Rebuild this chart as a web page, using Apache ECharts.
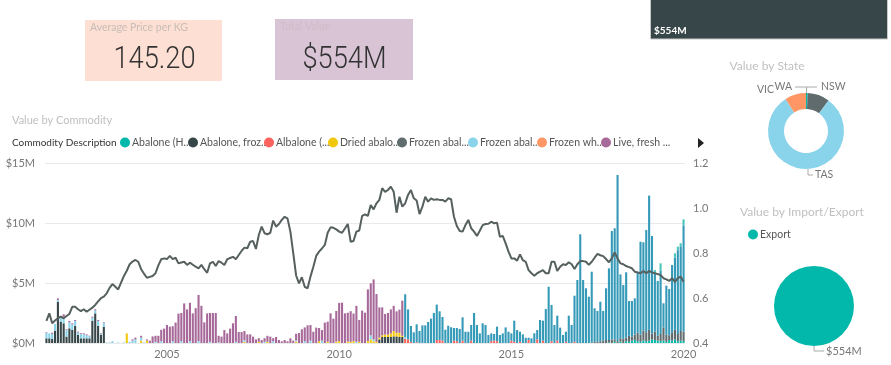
<!DOCTYPE html>
<html><head><meta charset="utf-8">
<script src="https://cdn.jsdelivr.net/npm/echarts@6/dist/echarts.min.js"></script>
<style>html,body{margin:0;padding:0;background:#fff}#c{width:891px;height:365px}</style>
</head><body><div id="c"></div>
<script>
// ---------- categories: monthly, Jul 2001 .. Jan 2020 ----------
const firstYear = 2001, firstMonth = 7, monthCount = 223;
const months = [];
for (let i = 0; i < monthCount; i++) {
  const m = firstMonth - 1 + i;
  months.push((firstYear + Math.floor(m / 12)) + '-' + String(m % 12 + 1).padStart(2, '0'));
}
const yearTicks = ['2005-01', '2010-01', '2015-01', '2020-01'];
const valueTicks = ['$0M', '$5M', '$10M', '$15M'];

// ---------- series values ($M); segments are [startMonthIndex, values] ----------
const abaloneH = [[196, [0.05,0,0.1,0,0.1,0,0.15,0.1,0.2,0.25,0.15,0.1,0.2,0.15,0.2,0.3,0.25,0.2,0.15,0.2,0.1,0.25,0.2,0.3,0.15,0.2,0.15]]];
const abaloneFrozen = [
  [0, [0.39,0.39,0.33,1.03,3.44,1.78,1.64,0.53,1.22,1.1,1.44,0.67,0.39,0.39,0.39,0.39,1.86,2.47,1.44,0.69,1.36]],
  [116, [0.3,0.5,0.5,0.5,0.5,0.55,0.55,0.5,0.5]]
];
const albalone = [[125, [0.35,0.3,0.1,0,0.06,0,0,0,0,0, 0,0.25,0.25,0.2,0,0,0,0.2,0.15,0, 0.2,0,0,0.2,0,0,0,0,0,0, 0.15,0.2,0.15,0,0,0,0,0.2,0.1,0, 0.1,0,0,0.25,0,0,0.3,0,0.2,0, 0,0.15,0,0.2,0,0,0.1,0,0,0.1]]];
const driedAbalone = [[28,[0.8]],[33,[0.2]],[35,[0.2]],[69,[0.08]],[74,[0.1]],[77,[0.1]],[87,[0.12]],[95,[0.15]],[98,[0.1]],[101,[0.12,0.15]],[105,[0.12,0.1,0.15]],[109,[0.1]],
  [112, [0.15,0.3,0.15,0.1,0.15,0.15,0.2,0.2,0.3,0.45,0.3,0.35,0.1]]];
const frozenGrey = [[190, [0.05,0.1,0.1,0.15,0.2,0.25,0.2,0.3,0.2,0.15,0.3,0.35,0.3,0.5,0.35,0.45,0.7,0.6,0.85,0.75,0.9,0.5,0.7,0.4,0.6,1.1,0.6,0.4,0.7,0.8,0.6,0.8,0.8]]];
const frozenLight = [
  [0, [0.45,0.42,0.43,0.55,0.15,0.3,0.55,0.55,0.5,0.45,0.4,0.2,0.35,0.35,0.25,0.17,0.25,0.25,0.4,0.1,0.3,0.05,0.05,0.15]],
  [25,[0.05]],[27,[0.05]],[29,[0.1,0.2,0.3]],[33,[0.25,0.05]],[38,[0.1]],[40,[0.15]],[44,[0.15]],[47,[0.15]],[50,[0.15]],[53,[0.15]],[57,[0.1]],[60,[0.05]],
  [66,[0.1]],[69,[0.15]],[76,[0.1]],[79,[0.15]],[87,[0.1]],[90,[0.15]],[92,[0.2]],[96,[0.2]],[108,[0.1]],[113,[0.35,0.15]],[125,[0.15]]
];
const frozenWhole = [];
const liveFresh = [
  [0, [0.05,0,0.1,0,0.13,0.1,0.2,0.06,0.11,0.09,0.08,0.07,0.07,0.07,0.08,0.05,0.08,0.09,0.08,0.05,0.06]],
  [30, [0.1,0.15,0,0.15,0,0.1,0.2,0.55,0.5,0.6,
        0.95,1.2,1.5,1.36,1.25,1.7,2.45,2.35,3.3,2.8,
        3.2,2.47,2.9,3.85,3.1,1.72,2.47,2.4,2.5,2.5,
        0.55,0.53,1.08,0.8,1.2,1.64,2.15,0.92,0.92,0.77,
        0.72,0.72,0.53,0.3,0.3,0.25,0.3,0.5,0.53,0.25,
        0.5,0.25,0.14,0.25,0.14,0.39,0.2,0.55,0.83,1.14,
        1.15,1.47,1.3,0.94,1.28,1.1,0.88,1.7,1.68,2.47,
        2.03,2.55,3.2,3.36,2.47,2.4,2.55,2.3,3.0,1.82,
        2.7,2.53,4.32,4.32,5.0,3.98,2.52,2.32,1.72,1.8,
        2.0,2.1,1.79,1.93,2.93]]
];
const processed = [[125, [3.56,2.5,1.32,0.89,1.5,1.0,1.47,1.47,1.75,2.03,
  2.5,2.95,2.39,1.97,1.11,1.44,1.31,1.05,1.1,1.17,
  1.94,0.94,0.94,1.3,2.5,1.5,0.8,1.64,1.5,0.67,
  0.65,0.55,1.21,0.67,0.8,1.3,0.94,0.6,1.76,1.08,
  0.84,0.72,0.44,0.19,0.39,0.81,0.78,1.92,1.66,2.83,
  4.69,3.02,1.5,2.08,1.28,0.67,0.84,2.28,1.5,3.84,
  5.25,9.06,5.25,4.56,3.86,
  5.89,2.79,2.57,3.29,2.47,4.31,5.97,9.03,9.26,13.85,
  5.32,4.48,5.44,2.9,2.95,3.02,5.09,7.74,7.34,8.52,
  11.18,8.12,4.83,4.57,5.29,2.01,4.08,3.85,5.6,6.02,
  6.98,7.06,8.85]]];
const otherExport = [[212,[0.3]],[214,[0.6]],[219,[0.35,0.3,0.25,0.5]]];

// line (right axis)
const ratio = [0.498,0.532,0.488,0.5,0.51,0.517,0.51,0.52,0.529,0.561,
 0.561,0.55,0.542,0.55,0.539,0.548,0.557,0.569,0.585,0.599,
 0.606,0.621,0.645,0.662,0.65,0.638,0.668,0.698,0.721,0.75,
 0.762,0.769,0.761,0.728,0.708,0.69,0.694,0.698,0.71,0.745,
 0.772,0.776,0.773,0.787,0.773,0.779,0.754,0.758,0.761,0.747,
 0.757,0.748,0.739,0.732,0.747,0.728,0.712,0.754,0.761,0.742,
 0.764,0.757,0.747,0.772,0.778,0.783,0.772,0.791,0.809,0.824,
 0.821,0.85,0.853,0.818,0.88,0.917,0.888,0.883,0.89,0.944,
 0.917,0.929,0.947,0.961,0.954,0.895,0.799,0.70,0.665,0.692,
 0.65,0.643,0.695,0.739,0.787,0.806,0.82,0.836,0.89,0.914,
 0.912,0.905,0.895,0.89,0.909,0.929,0.85,0.853,0.895,0.90,
 0.965,0.972,0.965,1.013,0.994,1.021,1.036,1.088,1.072,1.08,
 1.095,1.072,0.979,1.05,1.006,1.021,1.058,1.08,1.043,1.033,
 0.973,1.006,1.05,1.028,1.043,1.036,1.039,1.036,1.036,1.028,
 1.043,1.039,0.961,0.92,0.898,0.895,0.924,0.947,0.91,0.895,
 0.876,0.899,0.924,0.929,0.93,0.939,0.932,0.935,0.872,0.876,
 0.843,0.806,0.776,0.776,0.766,0.794,0.768,0.761,0.724,0.71,
 0.699,0.71,0.717,0.724,0.71,0.71,0.761,0.761,0.72,0.739,
 0.75,0.747,0.759,0.75,0.729,0.75,0.764,0.764,0.761,0.747,
 0.761,0.779,0.796,0.79,0.786,0.773,0.759,0.776,0.803,0.776,
 0.754,0.75,0.742,0.737,0.732,0.717,0.713,0.71,0.72,0.71,
 0.72,0.714,0.71,0.706,0.702,0.688,0.683,0.676,0.688,0.672,
 0.688,0.695,0.672];

// pies
const states = ['WA', 'NSW', 'TAS', 'VIC'];
const stateValues = [4, 52, 448, 50];
const flows = ['Export'];
const flowValues = [554];

// KPI texts
const kpiAvgPrice = '145.20';
const kpiTotal = '$554M';

// ---------- build ----------
function expand(segs) {
  const out = new Array(monthCount).fill(0);
  segs.forEach(([s, vals]) => vals.forEach((v, k) => { out[s + k] = v; }));
  return out;
}
const barSeriesDefs = [
  ['Abalone (H...', abaloneH, '#01B8AA'],
  ['Abalone, froz...', abaloneFrozen, '#374649'],
  ['Albalone (...', albalone, '#FD625E'],
  ['Dried abalo...', driedAbalone, '#F2C80F'],
  ['Frozen abal...', frozenGrey, '#5F6B6D'],
  ['Frozen abal...\u200b', frozenLight, '#8AD4EB'],
  ['Frozen wh...', frozenWhole, '#FE9666'],
  ['Live, fresh ...', liveFresh, '#A66999'],
  ['Prepared', processed, '#3599B8'],
  ['Other', otherExport, '#4AC5BB']
];
const FONT = 'Lato, "Open Sans", sans-serif';
const series = barSeriesDefs.map(([name, segs, color]) => ({
  type: 'bar', name, stack: 'v', data: expand(segs), barWidth: 2.1,
  itemStyle: { color }, emphasis: { disabled: true }, silent: true
}));
series.push({
  type: 'line', name: 'ratio', yAxisIndex: 1, data: ratio, symbol: 'none',
  lineStyle: { color: '#56605F', width: 2 }, z: 5, silent: true
});

// label anchor spots for the donut (label text placement only)
const stateLabelSpots = [
  { x: 792, y: 87, align: 'right', line: [[806.5, 93], [806.5, 87], [795, 87]] },
  { x: 821, y: 87, align: 'left', line: [[806.5, 93], [806.5, 87], [817, 87]] },
  { x: 815, y: 175, align: 'left', line: [[808, 169], [808, 175], [813, 175]] },
  { x: 774, y: 90, align: 'right', line: null }
];
series.push({
  type: 'pie', name: 'state', center: [806, 131], radius: [22, 38], startAngle: 90,
  avoidLabelOverlap: false,
  data: states.map((n, i) => ({ name: n, value: stateValues[i], labelLine: { show: !!stateLabelSpots[i].line } })),
  color: ['#01B8AA', '#5F6B6D', '#8AD4EB', '#FE9666'],
  label: { color: '#777', fontSize: 10.5, fontFamily: FONT },
  labelLine: { show: true, lineStyle: { color: '#aaa', width: 1 } },
  labelLayout: p => {
    const s = stateLabelSpots[p.dataIndex];
    const r = { x: s.x, y: s.y, align: s.align, verticalAlign: 'middle', hideOverlap: false };
    if (s.line) r.labelLinePoints = s.line;
    return r;
  },
  silent: true
});
series.push({
  type: 'pie', name: 'flow', center: [814, 306], radius: [0, 40], startAngle: 90,
  data: flows.map((n, i) => ({ name: n, value: flowValues[i] })),
  color: ['#01B8AA'],
  label: { color: '#777', fontSize: 11, fontFamily: FONT, formatter: p => '$' + p.value + 'M', distanceToLabelLine: 2 },
  labelLine: { length: 5, length2: 10, lineStyle: { color: '#aaa', width: 1 } },
  silent: true
});

const legendCenters = [125, 193, 269, 333, 402, 473, 542, 606];
const legends = barSeriesDefs.slice(0, 8).map(([name], i) => ({
  data: [name], left: legendCenters[i] - 5, top: 137, padding: 0,
  icon: 'circle', itemWidth: 10, itemHeight: 10, selectedMode: false,
  formatter: n => n.replace('\u200b', ''),
  textStyle: { color: '#555', fontSize: 10.5, fontFamily: FONT, padding: [0, 0, 0, -3] }
}));
legends.push({
  data: ['Export'], left: 748, top: 229, padding: 0, icon: 'circle', itemWidth: 10, itemHeight: 10,
  selectedMode: false, textStyle: { color: '#555', fontSize: 10.5, fontFamily: FONT, padding: [0, 0, 0, -3] }
});

const txt = (text, x, y, fill, size, extra) => ({
  type: 'text', x, y, silent: true,
  style: Object.assign({ text, fill, font: size + 'px ' + FONT, textVerticalAlign: 'middle' }, extra || {})
});
const kpi = (text, x) => ({
  type: 'text', x, y: 60, scaleX: 0.88, silent: true,
  style: { text, fill: '#333', font: '300 31px Roboto, sans-serif', textAlign: 'center', textVerticalAlign: 'middle' }
});

const option = {
  animation: false,
  textStyle: { fontFamily: FONT },
  grid: { left: 45, right: 206, top: 163, bottom: 22, containLabel: false },
  legend: legends,
  xAxis: {
    type: 'category', data: months, boundaryGap: true,
    axisLine: { show: false }, axisTick: { show: false },
    axisLabel: {
      interval: (idx, val) => yearTicks.includes(val),
      formatter: v => v.slice(0, 4), color: '#777', fontSize: 11, margin: 6, fontFamily: FONT
    },
    splitLine: { show: false }
  },
  yAxis: [{
    type: 'value', min: 0, max: 15, interval: 5,
    axisLabel: { formatter: v => valueTicks[v / 5], color: '#777', fontSize: 11, margin: 10, fontFamily: FONT },
    splitLine: { lineStyle: { color: '#EAEAEA', width: 1 } },
    axisLine: { show: false }, axisTick: { show: false }
  }, {
    type: 'value', min: 0.4, max: 1.2, interval: 0.2, position: 'right',
    axisLabel: { formatter: v => v.toFixed(1), color: '#777', fontSize: 11, margin: 8, fontFamily: FONT },
    splitLine: { show: false }, axisLine: { show: false }, axisTick: { show: false }
  }],
  graphic: [
    { type: 'rect', shape: { x: 85, y: 20, width: 137, height: 61 }, style: { fill: '#FDDFD3' }, silent: true },
    { type: 'rect', shape: { x: 275, y: 19, width: 138, height: 61 }, style: { fill: '#D9C4D6' }, silent: true },
    txt('Average Price per KG', 90, 28, '#C8BDB8', 10.5),
    txt('Total Value', 280, 27, '#CDBCCA', 10.5),
    kpi(kpiAvgPrice, 154.5),
    kpi(kpiTotal, 344.5),
    { type: 'rect', shape: { x: 650.5, y: -1, width: 237, height: 40 }, style: { fill: '#374649', stroke: '#C8C8C8', lineWidth: 1 }, silent: true },
    txt(kpiTotal, 654, 31, '#fff', 10, { font: 'bold 10px ' + FONT }),
    txt('Value by State', 767, 66, '#C0C0C0', 12, { textAlign: 'center' }),
    txt('Value by Commodity', 12, 120, '#C0C0C0', 11),
    txt('Commodity Description', 12, 143, '#333', 10),
    txt('Value by Import/Export', 802, 212, '#C0C0C0', 12, { textAlign: 'center' }),
    { type: 'polygon', shape: { points: [[698, 138], [704, 143], [698, 148]] }, style: { fill: '#222' }, silent: true }
  ],
  series
};
const chart = echarts.init(document.getElementById('c'), null, { renderer: 'canvas' });
chart.setOption(option);
</script></body></html>
